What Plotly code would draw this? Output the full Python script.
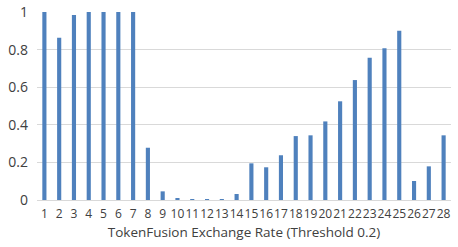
import plotly.graph_objects as go

categories = [str(i) for i in range(1, 29)]
values = [1.0, 0.863, 0.984, 1.0, 1.0, 1.0, 1.0, 0.278, 0.046, 0.01,
          0.003, 0.003, 0.005, 0.032, 0.195, 0.174, 0.238, 0.34, 0.344, 0.418,
          0.525, 0.638, 0.757, 0.807, 0.90, 0.101, 0.179, 0.344]
y_ticks = [0, 0.2, 0.4, 0.6, 0.8, 1]
y_tick_labels = ["0", "0.2", "0.4", "0.6", "0.8", "1"]

fig = go.Figure(go.Bar(x=categories, y=values, marker_color="#4f81bd",
                       marker_line_width=0))
fig.update_layout(
    width=458, height=247,
    margin=dict(l=37, r=7, t=12, b=47),
    paper_bgcolor="white", plot_bgcolor="white",
    bargap=0.72,
    showlegend=False,
    font=dict(family="Open Sans, DejaVu Sans, sans-serif", color="#404040"),
)
fig.update_xaxes(
    type="category", tickfont=dict(size=12), ticks="", showgrid=False,
    tickangle=0, automargin=False, ticklabelstandoff=3,
    title=dict(text="TokenFusion Exchange Rate (Threshold 0.2)",
               font=dict(size=13.5), standoff=6),
    showline=True, linecolor="#d9d9d9", linewidth=1,
)
fig.update_yaxes(
    range=[0, 1.0], tickvals=y_ticks, ticktext=y_tick_labels,
    tickfont=dict(size=14), showgrid=True, gridcolor="#d9d9d9",
    gridwidth=1, zeroline=False, ticks="", ticklabelstandoff=8,
    automargin=False,
)
fig.write_html(
    "out.html",
    config={"displayModeBar": False},
    post_script="document.body.style.margin='0';document.body.style.overflow='hidden';",
)
